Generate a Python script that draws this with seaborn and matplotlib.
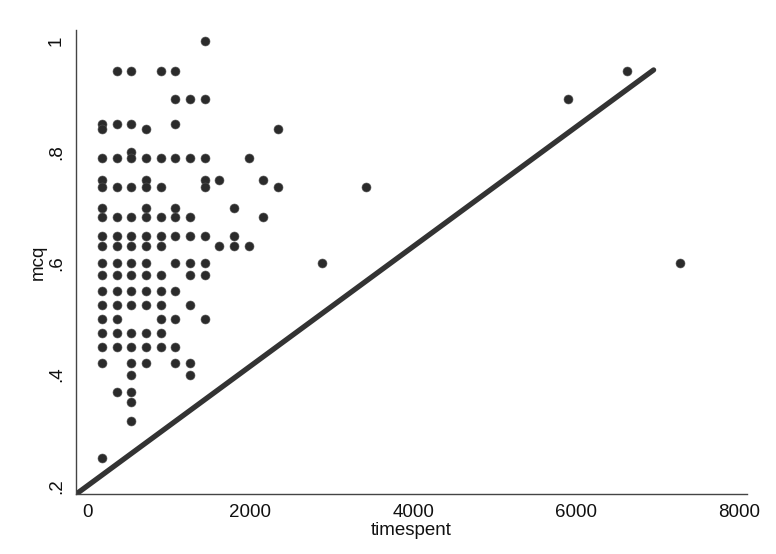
import matplotlib
matplotlib.use('Agg')
import matplotlib.pyplot as plt
import seaborn as sns
import pandas as pd

# mcq score levels and the timespent values seen at each level
mcq_levels = [1.0, 0.947, 0.895, 0.85, 0.842, 0.8, 0.789, 0.75, 0.737, 0.70,
              0.684, 0.65, 0.632, 0.60, 0.579, 0.55, 0.526, 0.50, 0.474, 0.45,
              0.421, 0.40, 0.368, 0.35, 0.316, 0.25]
times_by_level = [
    [1440],
    [360, 540, 900, 1080, 6620],
    [1080, 1260, 1440, 5900],
    [180, 360, 540, 1080],
    [180, 720, 2340],
    [540],
    [180, 360, 540, 720, 900, 1080, 1260, 1440, 1980],
    [180, 720, 1440, 1620, 2160],
    [180, 360, 540, 720, 900, 1440, 2340, 3420],
    [180, 720, 1080, 1800],
    [180, 360, 540, 720, 900, 1080, 1260, 2160],
    [180, 360, 540, 720, 900, 1080, 1260, 1440, 1800],
    [180, 360, 540, 720, 900, 1620, 1800, 1980],
    [180, 360, 540, 720, 1080, 1260, 1440, 2880, 7270],
    [180, 360, 540, 720, 900, 1260, 1440],
    [180, 360, 540, 720, 900, 1080],
    [180, 360, 540, 720, 900, 1260],
    [180, 360, 900, 1080, 1440],
    [180, 360, 540, 720, 900],
    [180, 360, 540, 720, 900, 1080],
    [180, 540, 720, 1080, 1260],
    [540, 1260],
    [360, 540],
    [540],
    [540],
    [180],
]

# straight line drawn over the scatter
line_x = [-140, 6950]
line_y = [0.185, 0.948]

x_ticks = [0, 2000, 4000, 6000, 8000]
y_ticks = [0.2, 0.4, 0.6, 0.8, 1.0]
y_tick_labels = ['.2', '.4', '.6', '.8', '1']

rows = []
for lvl, times in zip(mcq_levels, times_by_level):
    for t in times:
        rows.append({'timespent': t, 'mcq': lvl})
df = pd.DataFrame(rows)
line_df = pd.DataFrame({'timespent': line_x, 'mcq': line_y})

sns.set_style('white')
plt.rcParams['font.family'] = ['Liberation Sans', 'DejaVu Sans']

fig = plt.figure(figsize=(7.76, 5.54), dpi=100)
ax = fig.add_axes([0.098, 0.108, 0.865, 0.838])

sns.scatterplot(data=df, x='timespent', y='mcq', ax=ax, color='#2b2b2b',
                s=42, edgecolor='#555555', linewidth=0.4, zorder=3)
sns.lineplot(data=line_df, x='timespent', y='mcq', ax=ax, color='#333333',
             linewidth=3.8, sort=False, zorder=2)

ax.set_xlim(-140, 8100)
ax.set_ylim(0.185, 1.02)
ax.set_xticks(x_ticks)
ax.set_xticklabels([str(v) for v in x_ticks])
ax.set_yticks(y_ticks)
ax.set_yticklabels(y_tick_labels, rotation=90, va='center')

for side in ['top', 'right']:
    ax.spines[side].set_visible(False)
for side in ['left', 'bottom']:
    ax.spines[side].set_color('#444444')
    ax.spines[side].set_linewidth(1.0)

ax.tick_params(axis='both', length=4, width=0.8, color='#444444',
               labelsize=13.5, labelcolor='#111111', direction='out')
ax.tick_params(axis='x', pad=3)
ax.tick_params(axis='y', pad=4)
ax.set_xlabel('timespent', fontsize=13.5, color='#111111', labelpad=1)
ax.set_ylabel('mcq', fontsize=13.5, color='#111111', labelpad=1)

fig.savefig('out.png', dpi=100, facecolor='white')
